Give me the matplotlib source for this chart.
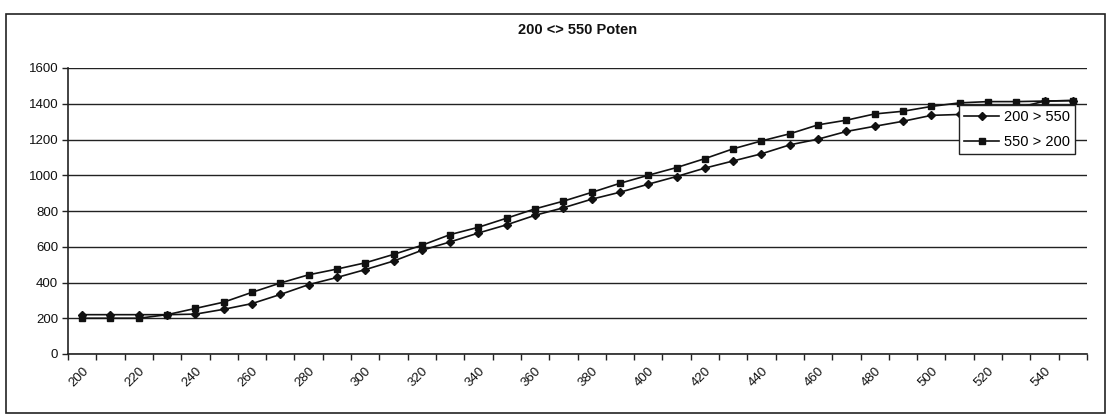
import matplotlib
matplotlib.use("Agg")
import matplotlib.pyplot as plt
from matplotlib.patches import Rectangle
from matplotlib.ticker import FixedLocator, NullFormatter

plt.rcParams['font.family'] = ['Liberation Sans', 'DejaVu Sans']

categories = list(range(200, 551, 10))
tick_labels = [str(c) for c in range(200, 541, 20)]

series_up_name = "200 > 550"
series_up = [220, 220, 220, 220, 223, 250, 282, 333, 388, 428, 472, 520,
             580, 627, 677, 723, 776, 818, 866, 905, 950, 993, 1040, 1080,
             1120, 1170, 1202, 1245, 1274, 1302, 1335, 1340, 1372, 1375, 1415, 1418]

series_down_name = "550 > 200"
series_down = [200, 200, 200, 220, 255, 290, 345, 397, 443, 475, 510, 557,
               608, 668, 709, 760, 812, 855, 904, 955, 1000, 1043, 1093, 1148,
               1192, 1232, 1282, 1308, 1343, 1358, 1385, 1405, 1412, 1412, 1415, 1418]

title = "200 <> 550 Poten"
y_ticks = [0, 200, 400, 600, 800, 1000, 1200, 1400, 1600]

W, H = 1110, 420
fig = plt.figure(figsize=(W / 100, H / 100), dpi=100)
fig.patch.set_facecolor('white')

# chart-area border
fig.patches.append(Rectangle((6 / W, 1 - 413 / H), (1105 - 6) / W, (413 - 14) / H,
                             transform=fig.transFigure, fill=False,
                             edgecolor='#222222', linewidth=1.2))

left, right, top, bottom = 68, 1087, 68, 354
ax = fig.add_axes([left / W, 1 - bottom / H, (right - left) / W, (bottom - top) / H])

n = len(categories)
xs = list(range(n))
ax.plot(xs, series_up, color='#111111', linewidth=1.2, marker='D',
        markersize=4.2, label=series_up_name, zorder=3)
ax.plot(xs, series_down, color='#111111', linewidth=1.2, marker='s',
        markersize=4.3, label=series_down_name, zorder=3)

ax.set_xlim(-0.5, n - 0.5)
ax.set_ylim(0, 1600)
ax.set_yticks(y_ticks)
ax.set_yticklabels([str(v) for v in y_ticks], fontsize=9.5, color='#111111')
ax.yaxis.grid(True, color='#222222', linewidth=1.0)
ax.set_axisbelow(True)

# category-boundary tick marks, labels on every other category
ax.xaxis.set_major_locator(FixedLocator([i - 0.5 for i in range(n + 1)]))
ax.xaxis.set_major_formatter(NullFormatter())
label_pos = [categories.index(int(t)) for t in tick_labels]
ax.xaxis.set_minor_locator(FixedLocator(label_pos))
ax.set_xticklabels(tick_labels, minor=True, rotation=45, fontsize=9.5,
                   ha='right', va='top', rotation_mode='anchor', color='#111111')
ax.tick_params(axis='x', which='major', length=4, width=1, direction='out', color='#222222')
ax.tick_params(axis='x', which='minor', length=0, pad=8)
ax.tick_params(axis='y', length=4, width=1, direction='out', color='#222222', pad=3)

for s in ['top', 'right']:
    ax.spines[s].set_visible(False)
for s in ['left', 'bottom']:
    ax.spines[s].set_color('#222222')
    ax.spines[s].set_linewidth(1.2)

fig.text((left + right) / 2 / W, 1 - 30 / H, title, ha='center', va='center',
         fontsize=10.5, fontweight='bold', color='#111111')

leg = ax.legend(loc='upper right', bbox_to_anchor=(0.988, 0.871), borderaxespad=0,
                fontsize=10.5, frameon=True, fancybox=False, handlelength=2.4,
                borderpad=0.35, labelspacing=0.75, handletextpad=0.3)
leg.get_frame().set_edgecolor('#222222')
leg.get_frame().set_linewidth(1.0)
leg.get_frame().set_facecolor('white')
leg.get_frame().set_alpha(1)

fig.savefig('out.png', dpi=100)
